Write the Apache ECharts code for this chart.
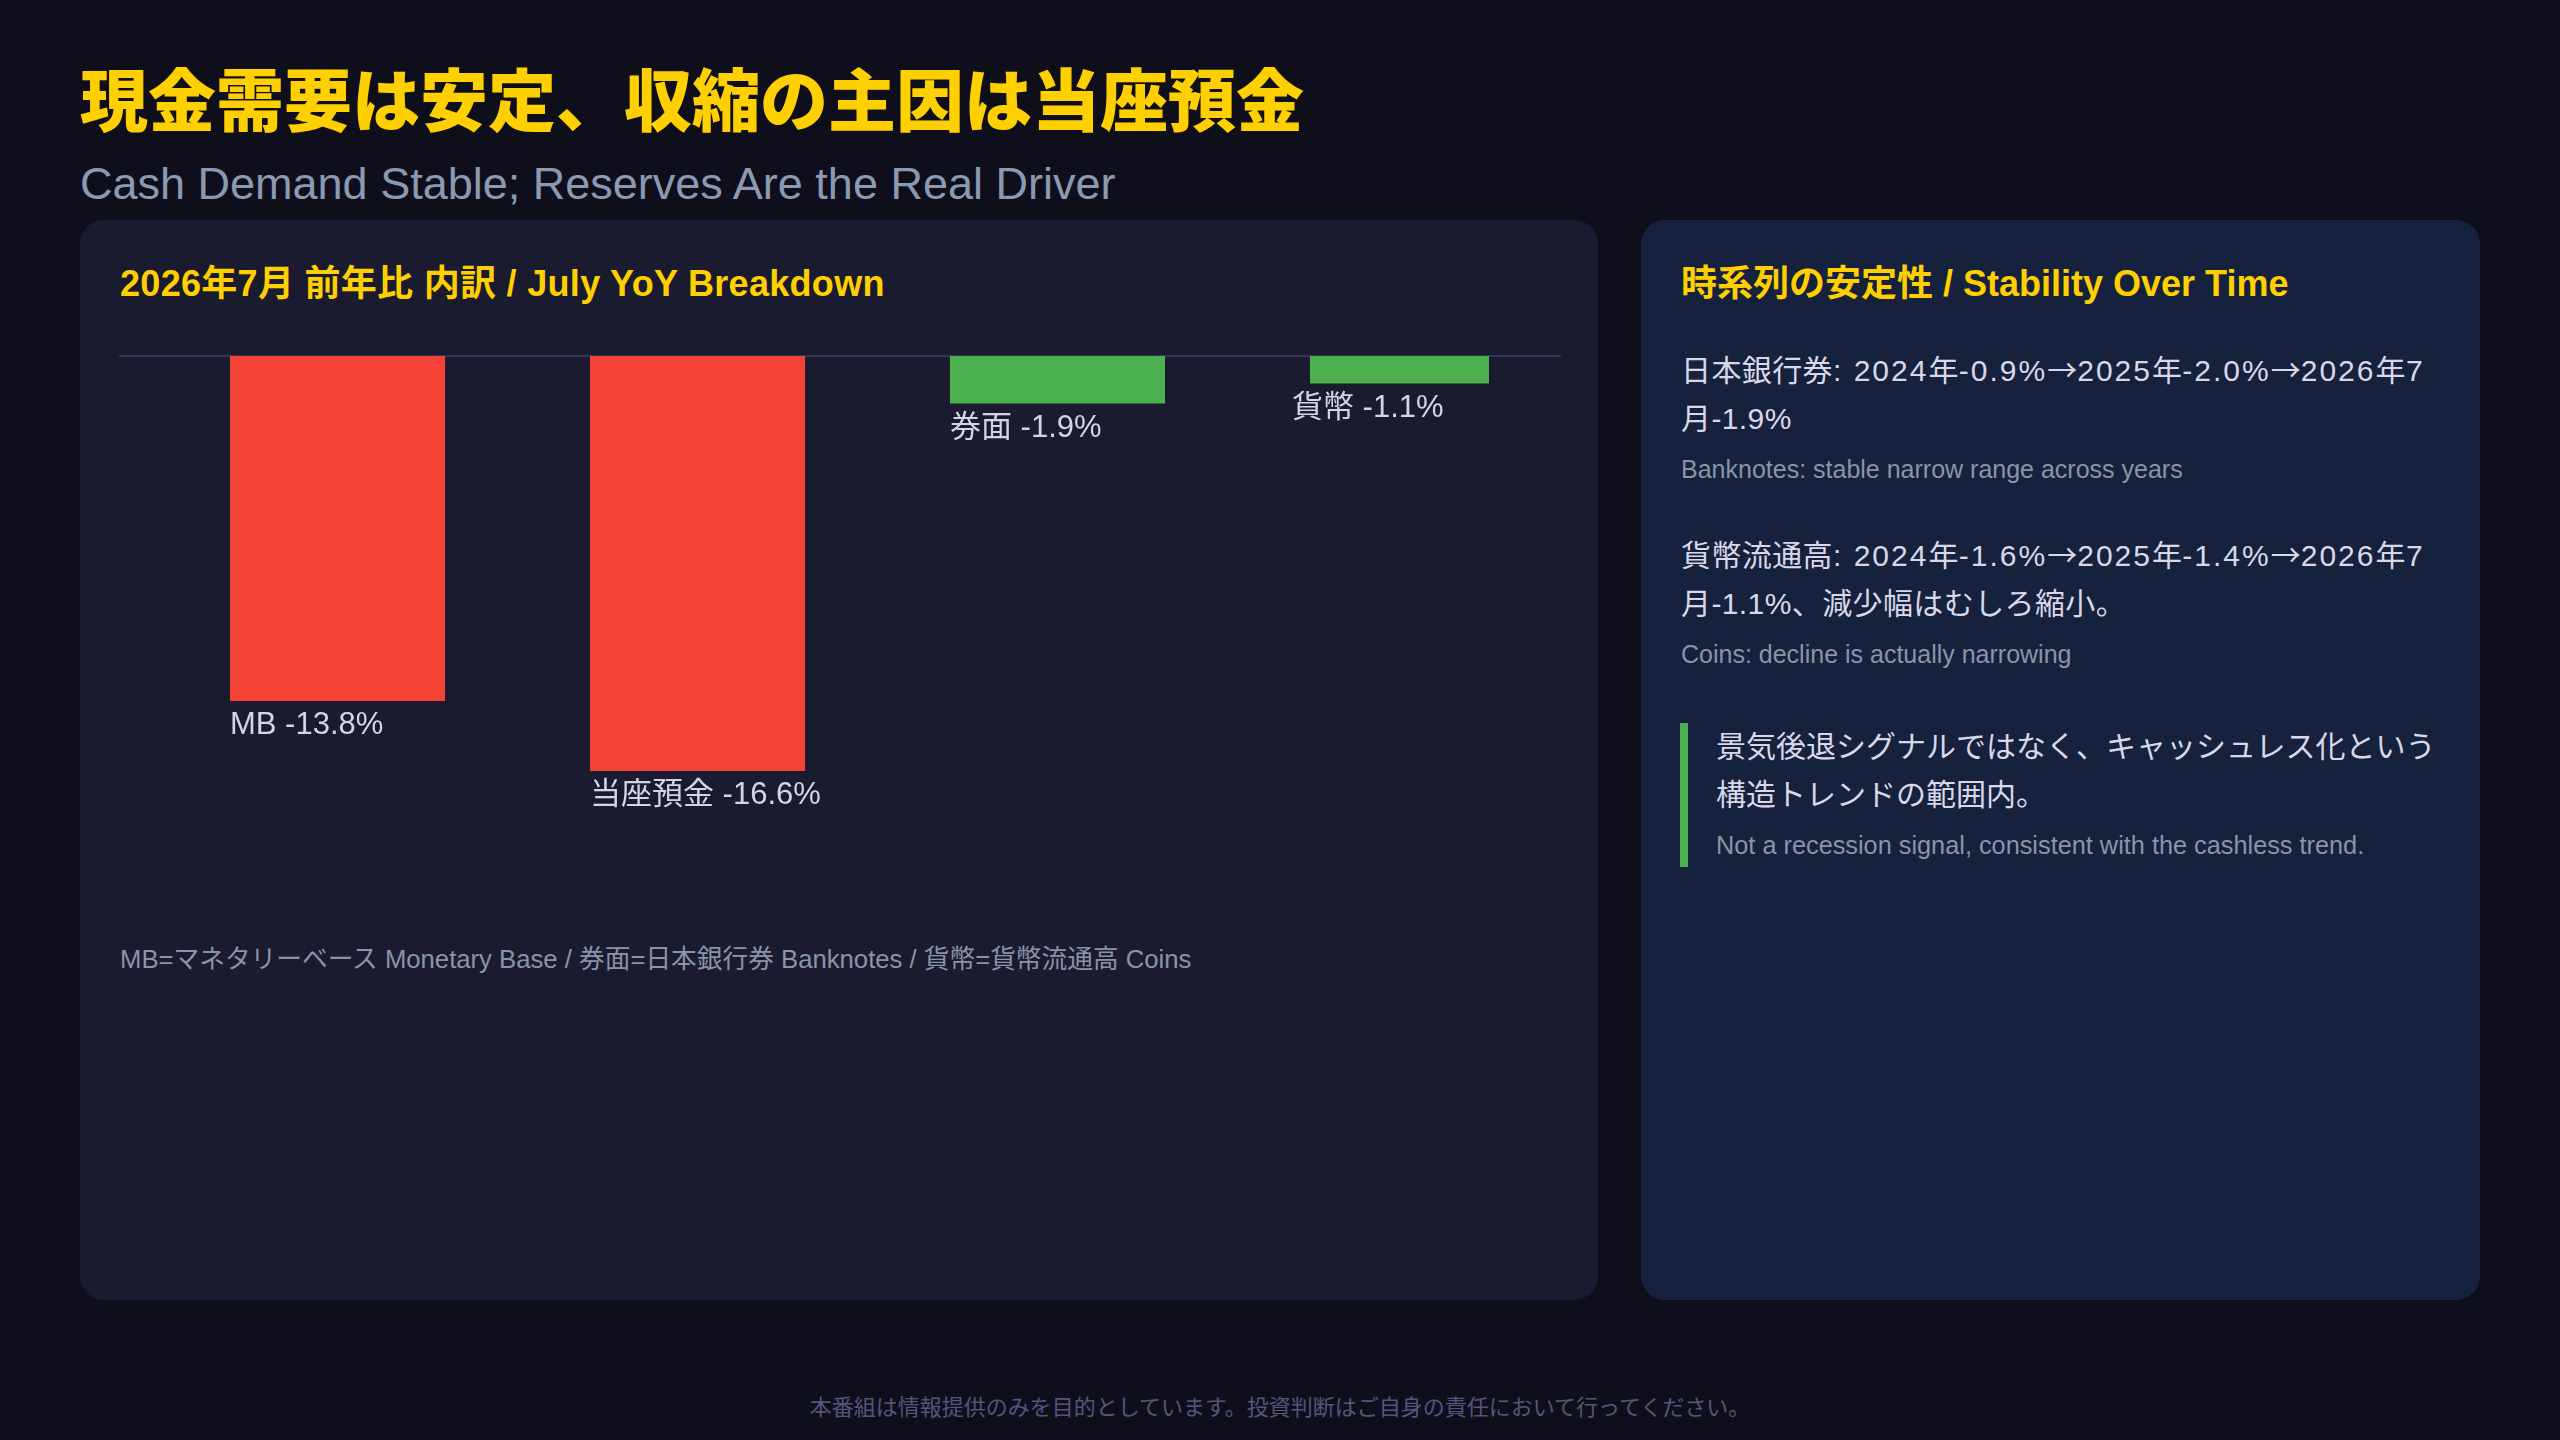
<!DOCTYPE html>
<html>
<head>
<meta charset="utf-8">
<script src="https://cdn.jsdelivr.net/npm/echarts@6/dist/echarts.min.js"></script>
<style>
html,body{margin:0;padding:0;background:#0f0f1c;}
body{width:2560px;height:1440px;position:relative;overflow:hidden;font-family:"Liberation Sans","Noto Sans CJK JP",sans-serif;}
.abs{position:absolute;margin:0;}
#title{left:80px;top:56px;font-family:"Noto Sans CJK JP",sans-serif;font-weight:900;font-size:68px;line-height:82px;color:#FFD000;white-space:nowrap;}
#subtitle{left:80px;top:157px;font-size:45px;line-height:53px;color:#8a9ab0;white-space:nowrap;}
.panel{position:absolute;top:220px;height:1080px;border-radius:24px;}
#leftPanel{left:80px;width:1518px;background:#1a1b2e;}
#rightPanel{left:1641px;width:839px;background:#16213e;}
.h{top:260px;font-weight:700;font-size:36px;line-height:48px;color:#FFD000;white-space:nowrap;}
#leftHead{left:120px;letter-spacing:0.3px;}
#rightHead{left:1681px;}
#legendNote{left:120px;top:940px;font-size:25.7px;line-height:39px;color:#8a94a8;white-space:nowrap;}
.p{left:1681px;width:790px;font-size:30px;line-height:48px;color:#d8d8ea;white-space:nowrap;letter-spacing:0.4px;}
.p .n{letter-spacing:2px;}
.arr{font-family:"Noto Sans CJK JP",sans-serif;letter-spacing:0;}
.s{left:1681px;font-size:25px;line-height:36px;color:#8a94a8;white-space:nowrap;}
#p1{top:344px;}
#s1{top:451px;}
#p2{top:529px;}
#s2{top:636px;}
#callout{left:1680px;top:723px;width:790px;border-left:8px solid #4CAF50;padding:0 0 4px 28px;box-sizing:border-box;}
#callout .cp{font-size:30px;line-height:48px;color:#d8d8ea;margin:0;white-space:nowrap;}
#callout .cs{font-size:25.3px;line-height:36px;color:#8a94a8;margin:8px 0 0 0;white-space:nowrap;}
#disclaimer{left:0;width:2560px;top:1389px;text-align:center;font-family:"Noto Sans CJK JP",sans-serif;font-size:22px;line-height:32px;color:#55557a;}
#chart{position:absolute;left:0;top:0;width:2560px;height:1440px;z-index:5;}
</style>
</head>
<body>
<div id="title" class="abs">現金需要は安定、収縮の主因は当座預金</div>
<div id="subtitle" class="abs">Cash Demand Stable; Reserves Are the Real Driver</div>

<div id="leftPanel" class="panel"></div>
<div id="rightPanel" class="panel"></div>

<div id="leftHead" class="abs h">2026年7月 前年比 内訳 / July YoY Breakdown</div>
<div id="legendNote" class="abs">MB=マネタリーベース Monetary Base / 券面=日本銀行券 Banknotes / 貨幣=貨幣流通高 Coins</div>

<div id="rightHead" class="abs h">時系列の安定性 / Stability Over Time</div>
<div id="p1" class="abs p">日本銀行券<span class="n">: 2024</span>年<span class="n">-0.9%</span><span class="arr">→</span><span class="n">2025</span>年<span class="n">-2.0%</span><span class="arr">→</span><span class="n">2026</span>年<span class="n">7</span><br>月-1.9%</div>
<div id="s1" class="abs s">Banknotes: stable narrow range across years</div>
<div id="p2" class="abs p">貨幣流通高<span class="n">: 2024</span>年<span class="n">-1.6%</span><span class="arr">→</span><span class="n">2025</span>年<span class="n">-1.4%</span><span class="arr">→</span><span class="n">2026</span>年<span class="n">7</span><br>月-1.1%、減少幅はむしろ縮小。</div>
<div id="s2" class="abs s">Coins: decline is actually narrowing</div>
<div id="callout" class="abs">
  <p class="cp">景気後退シグナルではなく、キャッシュレス化という<br>構造トレンドの範囲内。</p>
  <p class="cs">Not a recession signal, consistent with the cashless trend.</p>
</div>

<div id="disclaimer" class="abs">本番組は情報提供のみを目的としています。投資判断はご自身の責任において行ってください。</div>

<div id="chart"></div>

<script>
// ---- data ----
const categories = ['MB', '当座預金', '券面', '貨幣'];
const yoyValues = [-13.8, -16.6, -1.9, -1.1];
const narrowIndex = 3; // the coins bar is drawn narrower in the source

// ---- style ----
const RED = '#F44336';
const GREEN = '#4CAF50';
const LABEL_FONT = '"Liberation Sans","Noto Sans CJK JP",sans-serif';
function barColor(v) { return Math.abs(v) >= 5 ? RED : GREEN; }
function fmt(p) { return categories[p.dataIndex] + ' ' + Number(p.value).toFixed(1) + '%'; }

const mainData = yoyValues.map((v, i) => i === narrowIndex ? null : v);
const narrowData = yoyValues.map((v, i) => i === narrowIndex ? v : null);
const spacerData = yoyValues.map(() => null);

const labelBase = {
  show: true,
  position: [0, '100%'],
  align: 'left',
  verticalAlign: 'top',
  formatter: fmt,
  color: '#d4d4e6',
  fontSize: 31,
  lineHeight: 31,
  fontFamily: LABEL_FONT
};

const chart = echarts.init(document.getElementById('chart'), null, { renderer: 'canvas' });
chart.setOption({
  animation: false,
  backgroundColor: 'transparent',
  grid: { left: 120, top: 356, width: 1440, height: 500, containLabel: false },
  xAxis: {
    type: 'category',
    data: categories,
    axisLine: { show: true, onZero: true, lineStyle: { color: '#35355a', width: 2 } },
    axisTick: { show: false },
    axisLabel: { show: false },
    splitLine: { show: false }
  },
  yAxis: {
    type: 'value',
    min: -20,
    max: 0,
    show: false
  },
  series: [
    {
      type: 'bar',
      name: 'main',
      data: mainData,
      barWidth: 215,
      barGap: '-100%',
      itemStyle: { color: p => barColor(p.value) },
      label: Object.assign({}, labelBase, { offset: [0, 9] })
    },
    {
      type: 'bar',
      name: 'narrow',
      data: narrowData,
      barWidth: 179,
      barGap: '-100%',
      itemStyle: { color: p => barColor(p.value) },
      label: Object.assign({}, labelBase, { offset: [-18, 9] })
    },
    {
      type: 'bar',
      name: 'spacer',
      data: spacerData,
      barWidth: 140,
      barGap: '-100%',
      silent: true,
      itemStyle: { color: 'transparent' },
      label: { show: false }
    }
  ]
});
</script>
</body>
</html>
